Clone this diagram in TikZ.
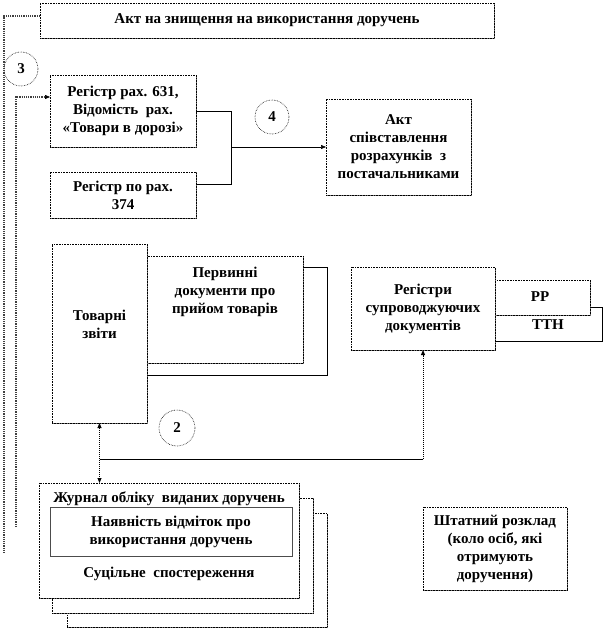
\documentclass[tikz,border=0pt]{standalone}
\usepackage{fontspec}
\setmainfont{Liberation Serif}
\usetikzlibrary{arrows.meta,shadows,calc}
\begin{document}
\begin{tikzpicture}[x=1pt,y=-1pt,
  txt/.style={font=\fontsize{15}{18}\selectfont\bfseries, align=center, inner sep=0pt},
  box/.style={draw=black, densely dotted, line width=0.6pt, fill=white,
    general shadow={fill=black!55, shadow xshift=1.2pt, shadow yshift=-1.2pt},
    inner sep=0pt, outer sep=0pt},
  plainbox/.style={draw=black, line width=0.6pt, fill=white, inner sep=0pt, outer sep=0pt},
  circ/.style={circle, draw=black, densely dotted, line width=0.6pt, fill=white, minimum size=34pt, inner sep=0pt,
    font=\fontsize{15}{16}\selectfont\bfseries},
  dotline/.style={densely dotted, line width=1.2pt, black!75},
  conn/.style={line width=0.6pt, black},
  tip/.style={-{Triangle[length=5pt,width=4pt]}}
]
\useasboundingbox (0,0) rectangle (606,628);

% top box
\node[box, minimum width=454pt, minimum height=35pt, txt] (top) at (267,20.5) {Акт на знищення на використання доручень};

% circles
\node[circ] (c3) at (21,69) {3};

% 631 and 374
\node[box, minimum width=146pt, minimum height=72pt, txt] (b631) at (123,111) {Регістр рах. 631,\\Відомість\ \ рах.\\«Товари в дорозі»};
\node[box, minimum width=146pt, minimum height=46pt, txt] (b374) at (123,195) {Регістр по рах.\\374};
\node[circ] (c4) at (272,117) {4};
\node[box, minimum width=145pt, minimum height=96pt, txt] (akt) at (398.5,147) {Акт\\співставлення\\розрахунків\ \ з\\постачальниками};

% Tovarni / Pervinni
\node[plainbox, minimum width=180pt, minimum height=108pt] (pback) at (237,321) {};
\node[box, minimum width=156pt, minimum height=107pt] (perv) at (225,309.5) {};
\node[txt] (pervt) at (225,292) {Первинні\\документи про\\прийом товарів};
\node[box, minimum width=95pt, minimum height=179pt] (tov) at (99.5,333.5) {};
\node[txt] (tovt) at (99.5,324) {Товарні\\звіти};

% Registry
\node[plainbox, minimum width=132pt, minimum height=34pt] (ttn) at (536,324) {};
\node[txt] (ttnt) at (548,325) {ТТН};
\node[box, minimum width=95pt, minimum height=35pt] (rr) at (542.5,297.5) {};
\node[txt] (rrt) at (540,297) {РР};
\node[box, minimum width=144pt, minimum height=83pt, txt] (reg) at (423,308.5) {Регістри\\супроводжуючих\\документів};

% Zhurnal pages
\node[box, minimum width=260pt, minimum height=114pt] (z3) at (197,570) {};
\node[box, minimum width=261pt, minimum height=115pt] (z2) at (182.5,555.5) {};
\node[box, minimum width=260pt, minimum height=115pt] (zh) at (169,540.5) {};
\node[txt] (zht) at (169,499) {Журнал обліку\ \ виданих доручень};
\node[draw=black!70, line width=0.8pt, fill=white, minimum width=242pt, minimum height=49pt, txt] (zin) at (171,531.5) {Наявність відміток про\\використання доручень};
\node[txt] (zbt) at (169,574) {Суцільне\ \ спостереження};

\node[circ, minimum size=36pt] (c2) at (177,428) {2};

% Shtatnyi
\node[box, minimum width=144pt, minimum height=83pt, txt] (sht) at (495,548.5) {Штатний розклад\\(коло осіб, які\\отримують\\доручення)};

% connectors
\coordinate (obot) at (4,553);
\coordinate (otop) at (40,16);
\draw[dotline] (otop) -- (4,16) -- (obot);
\coordinate (ibot) at (16,527);
\coordinate (a631) at (50,97);
\draw[dotline] (ibot) |- ($(a631)+(-4,0)$);
\draw[conn, tip] (45,97) -- (a631);

\coordinate (j1) at (231,111);
\coordinate (j2) at (231,184);
\coordinate (j3) at (231,147);
\draw[conn] (b631.east) -- (j1) -- (j2) -- (b374.east |- j2);
\draw[conn, tip] (j3) -- (akt.west);

\draw[densely dotted, line width=1pt, {Triangle[length=5pt,width=4pt]}-{Triangle[length=5pt,width=4pt]}] (tov.south) -- (tov.south |- zh.north);
\coordinate (h1) at (99.5,459);
\coordinate (h2) at (423,459);
\draw[conn] (h1) -- (h2);
\draw[densely dotted, line width=1pt, tip] (h2) -- (reg.south);
\end{tikzpicture}
\end{document}
